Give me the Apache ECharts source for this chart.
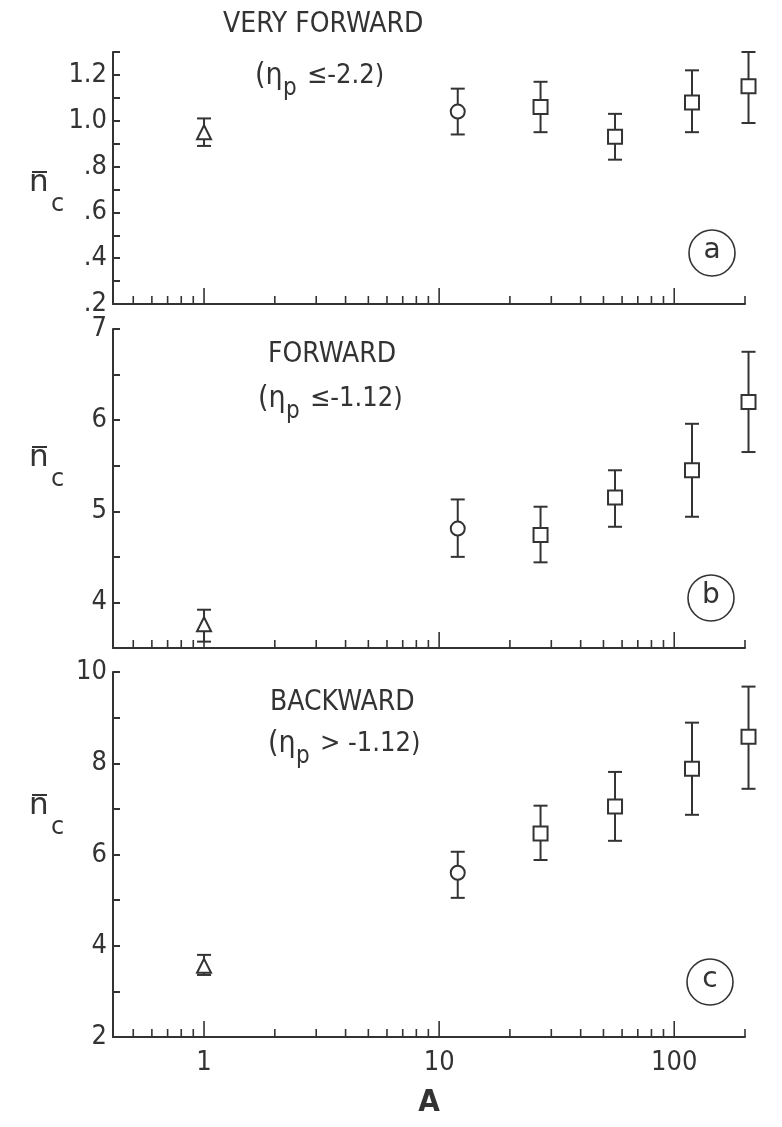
<!DOCTYPE html>
<html>
<head>
<meta charset="utf-8">
<script src="https://cdn.jsdelivr.net/npm/echarts@6/dist/echarts.min.js"></script>
<style>
  html, body { margin: 0; padding: 0; background: #ffffff; }
  #chart { width: 782px; height: 1127px; }
</style>
</head>
<body>
<div id="chart"></div>
<script>
// Target nuclei (mass number A) and the marker used for each
const massNumbers = [1, 12, 27, 56, 119, 207];
const markerShapes = ['triangle', 'circle', 'rect', 'rect', 'rect', 'rect'];

// (a) very forward: mean charged multiplicity with error-bar bounds
const veryForwardMean  = [0.95, 1.04, 1.06, 0.93, 1.08, 1.15];
const veryForwardLower = [0.89, 0.94, 0.95, 0.83, 0.95, 0.99];
const veryForwardUpper = [1.01, 1.14, 1.17, 1.03, 1.22, 1.30];

// (b) forward
const forwardMean  = [3.76, 4.81, 4.74, 5.15, 5.45, 6.20];
const forwardLower = [3.57, 4.50, 4.44, 4.83, 4.94, 5.65];
const forwardUpper = [3.92, 5.13, 5.05, 5.45, 5.96, 6.75];

// (c) backward
const backwardMean  = [3.56, 5.60, 6.46, 7.05, 7.88, 8.58];
const backwardLower = [3.36, 5.05, 5.88, 6.30, 6.87, 7.44];
const backwardUpper = [3.80, 6.06, 7.07, 7.81, 8.89, 9.68];

// Axis ranges and tick labels
const xRange = [0.41, 200];
const xMajorTicks = [1, 10, 100];
const xMinorTicks = [0.5, 0.6, 0.7, 0.8, 0.9, 2, 3, 4, 5, 6, 7, 8, 9,
                     20, 30, 40, 50, 60, 70, 80, 90, 200];
const xTickLabels = ['1', '10', '100'];

const yRangeA = [0.2, 1.3], yStepA = 0.1;
const yLabelValuesA = [0.2, 0.4, 0.6, 0.8, 1.0, 1.2];
const yLabelTextsA  = ['.2', '.4', '.6', '.8', '1.0', '1.2'];

const yRangeB = [3.5, 7], yStepB = 0.5;
const yLabelValuesB = [4, 5, 6, 7];
const yLabelTextsB  = ['4', '5', '6', '7'];

const yRangeC = [2, 10], yStepC = 1;
const yLabelValuesC = [2, 4, 6, 8, 10];
const yLabelTextsC  = ['2', '4', '6', '8', '10'];

const panelTitles = ['VERY FORWARD', 'FORWARD', 'BACKWARD'];
const panelCuts = ['\u2264-2.2)', '\u2264-1.12)', '> -1.12)'];
const panelTags = ['a', 'b', 'c'];

// ---------------------------------------------------------------
const INK = '#333333';
const FONT = '"DejaVu Sans Condensed", "DejaVu Sans", sans-serif';

const panels = [
  { mean: veryForwardMean, lower: veryForwardLower, upper: veryForwardUpper,
    yRange: yRangeA, yStep: yStepA, yVals: yLabelValuesA, yTexts: yLabelTextsA,
    top: 52, height: 252 },
  { mean: forwardMean, lower: forwardLower, upper: forwardUpper,
    yRange: yRangeB, yStep: yStepB, yVals: yLabelValuesB, yTexts: yLabelTextsB,
    top: 329, height: 319 },
  { mean: backwardMean, lower: backwardLower, upper: backwardUpper,
    yRange: yRangeC, yStep: yStepC, yVals: yLabelValuesC, yTexts: yLabelTextsC,
    top: 672, height: 365 }
];

const GRID_LEFT = 113, GRID_RIGHT = 37;

const grid = [], xAxis = [], yAxis = [], series = [];

panels.forEach((p, i) => {
  const last = i === panels.length - 1;
  grid.push({ left: GRID_LEFT, right: GRID_RIGHT, top: p.top, height: p.height });

  xAxis.push({
    type: 'log', logBase: 10, gridIndex: i,
    min: xRange[0], max: xRange[1],
    axisLine: { show: true, lineStyle: { color: INK, width: 2 } },
    axisTick: { show: false },
    splitLine: { show: false },
    axisLabel: {
      show: last, margin: 12, fontSize: 27, fontFamily: FONT, color: INK,
      showMinLabel: false, showMaxLabel: false,
      formatter: v => {
        const k = xMajorTicks.findIndex(t => Math.abs(t - v) / t < 1e-6);
        return k >= 0 ? xTickLabels[k] : '';
      }
    },
    name: last ? 'A' : '', nameLocation: 'middle', nameGap: 50,
    nameTextStyle: { fontSize: 31, fontFamily: FONT, color: INK, fontWeight: 'bold' }
  });

  yAxis.push({
    type: 'value', gridIndex: i,
    min: p.yRange[0], max: p.yRange[1], interval: p.yStep,
    axisLine: { show: true, lineStyle: { color: INK, width: 2 } },
    axisTick: { show: true, inside: true, length: 7, lineStyle: { color: INK, width: 2 } },
    splitLine: { show: false },
    axisLabel: {
      margin: 6, fontSize: 27, fontFamily: FONT, color: INK,
      formatter: v => {
        const k = p.yVals.findIndex(t => Math.abs(t - v) < 1e-6);
        return k >= 0 ? p.yTexts[k] : '';
      }
    }
  });

  // inward ticks of the logarithmic A axis
  const yBottom = p.yRange[0];
  series.push({
    type: 'custom', xAxisIndex: i, yAxisIndex: i, silent: true, clip: false,
    data: xMajorTicks.map(v => [v, 1]).concat(xMinorTicks.map(v => [v, 0])),
    encode: { x: 0 },
    renderItem: (params, api) => {
      const pt = api.coord([api.value(0), yBottom]);
      const len = api.value(1) ? 16 : 8;
      return {
        type: 'line',
        shape: { x1: pt[0], y1: pt[1], x2: pt[0], y2: pt[1] - len },
        style: { stroke: INK, lineWidth: 1.6 }
      };
    }
  });

  // error bars
  series.push({
    type: 'custom', xAxisIndex: i, yAxisIndex: i, silent: true, clip: false,
    data: massNumbers.map((a, k) => [a, p.lower[k], p.upper[k]]),
    encode: { x: 0, y: [1, 2] },
    renderItem: (params, api) => {
      const a = api.value(0);
      const lo = api.coord([a, api.value(1)]);
      const hi = api.coord([a, api.value(2)]);
      const cap = 7;
      const st = { stroke: INK, lineWidth: 2 };
      return {
        type: 'group',
        children: [
          { type: 'line', shape: { x1: lo[0], y1: lo[1], x2: hi[0], y2: hi[1] }, style: st },
          { type: 'line', shape: { x1: lo[0] - cap, y1: lo[1], x2: lo[0] + cap, y2: lo[1] }, style: st },
          { type: 'line', shape: { x1: hi[0] - cap, y1: hi[1], x2: hi[0] + cap, y2: hi[1] }, style: st }
        ]
      };
    }
  });

  // open markers
  series.push({
    type: 'scatter', xAxisIndex: i, yAxisIndex: i, silent: true, clip: false,
    data: massNumbers.map((a, k) => ({
      value: [a, p.mean[k]],
      symbol: markerShapes[k],
      symbolSize: 14
    })),
    itemStyle: { color: '#ffffff', borderColor: INK, borderWidth: 2, opacity: 1 },
    z: 5
  });
});

// Panel captions, y-axis symbol and circled panel tags
const captionPos = [
  { titleX: 223, titleY: 27, cutX: 255, cutY: 77 },
  { titleX: 268, titleY: 357, cutX: 258, cutY: 400 },
  { titleX: 270, titleY: 705, cutX: 268, cutY: 745 }
];
const ySymbolY = [189, 464, 812];
const tagPos = [[712, 253], [711, 598], [710, 982]];

const graphic = [];
captionPos.forEach((c, i) => {
  graphic.push({
    type: 'text', left: c.titleX, top: c.titleY - 16,
    style: { text: panelTitles[i], font: '28px ' + FONT, fill: INK }
  });
  graphic.push({
    type: 'text', left: c.cutX, top: c.cutY - 16,
    style: { text: '(\u03b7', font: '30px ' + FONT, fill: INK }
  });
  graphic.push({
    type: 'text', left: c.cutX + 28, top: c.cutY,
    style: { text: 'p', font: '24px ' + FONT, fill: INK }
  });
  graphic.push({
    type: 'text', left: c.cutX + 52, top: c.cutY - 15,
    style: { text: panelCuts[i], font: '27px ' + FONT, fill: INK }
  });

  const cy = ySymbolY[i];
  graphic.push({
    type: 'text', left: 29, top: cy - 22,
    style: { text: 'n', font: '31px "DejaVu Sans", sans-serif', fill: INK }
  });
  graphic.push({
    type: 'line', shape: { x1: 32, y1: cy - 17, x2: 47, y2: cy - 17 },
    style: { stroke: INK, lineWidth: 2 }
  });
  graphic.push({
    type: 'text', left: 51, top: cy + 4,
    style: { text: 'c', font: '24px "DejaVu Sans", sans-serif', fill: INK }
  });

  const t = tagPos[i];
  graphic.push({
    type: 'circle', shape: { cx: t[0], cy: t[1], r: 23 },
    style: { fill: 'none', stroke: INK, lineWidth: 1.6 }
  });
  graphic.push({
    type: 'text', x: t[0], y: t[1] - 2,
    style: { text: panelTags[i], font: '28px "DejaVu Sans", sans-serif', fill: INK,
             align: 'center', verticalAlign: 'middle' }
  });
});

const chart = echarts.init(document.getElementById('chart'), null, { renderer: 'canvas' });
chart.setOption({
  backgroundColor: '#ffffff',
  animation: false,
  grid, xAxis, yAxis, series, graphic
});
</script>
</body>
</html>
